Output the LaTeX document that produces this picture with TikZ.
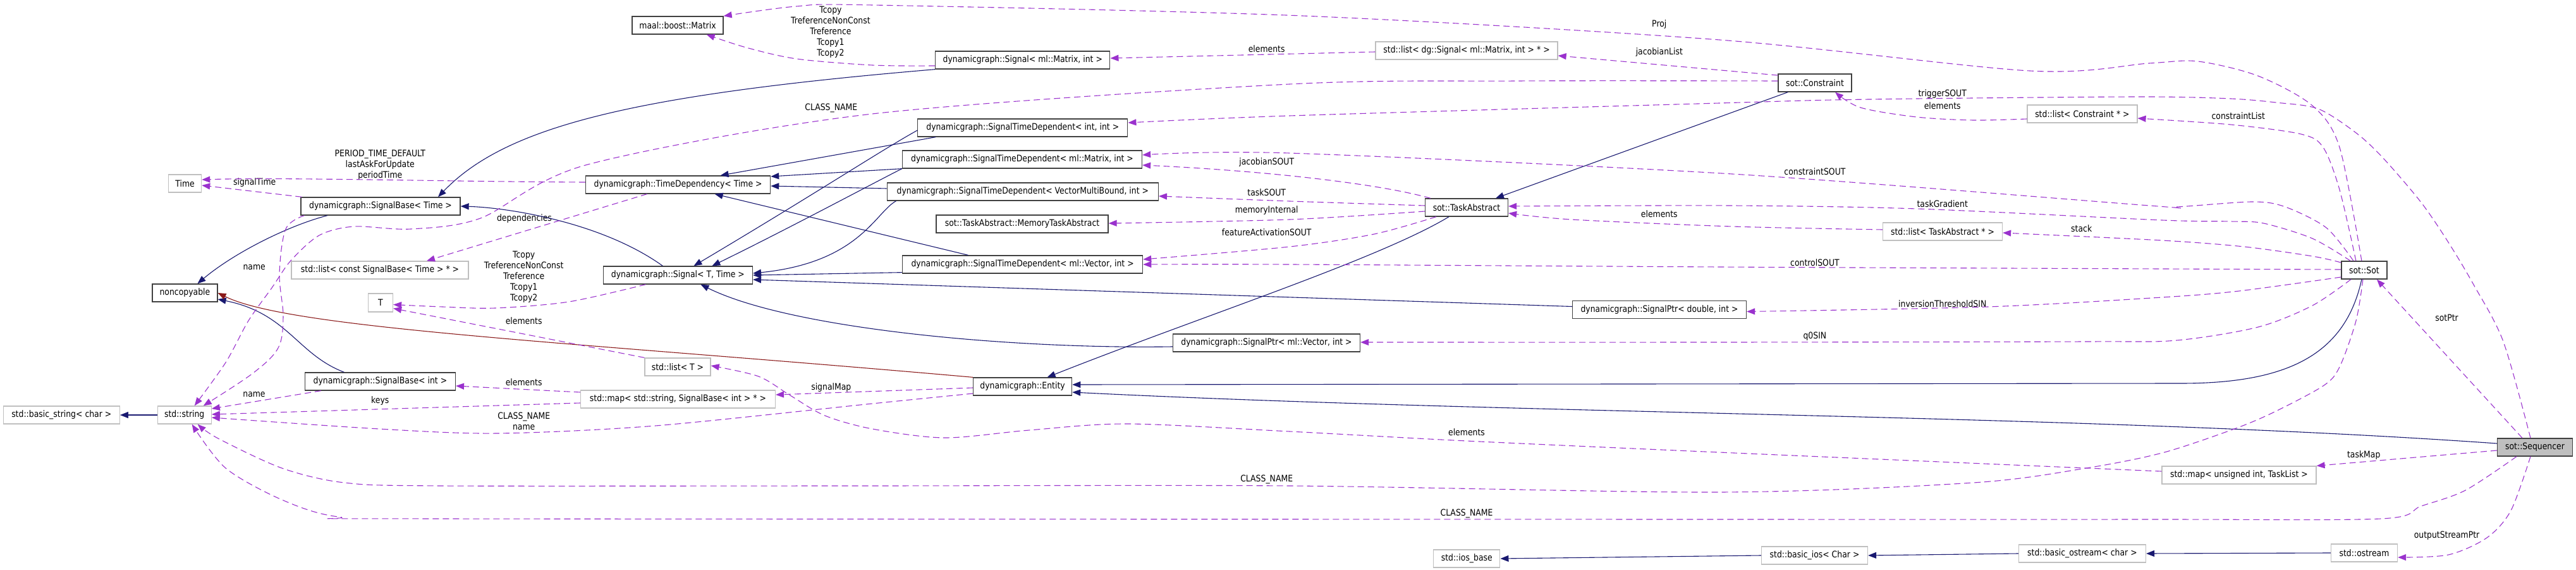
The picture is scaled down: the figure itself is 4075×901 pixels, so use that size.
\documentclass[tikz,border=0pt]{standalone}
\usepackage{fontspec}
\setmainfont[FakeStretch=0.87]{DejaVu Sans}
\usetikzlibrary{arrows.meta,calc}
\definecolor{inh}{HTML}{191970}
\definecolor{usec}{HTML}{9A32CD}
\definecolor{priv}{HTML}{8B1A1A}
\definecolor{dk}{HTML}{404040}
\definecolor{lg}{HTML}{BFBFBF}
\tikzset{
 every node/.style={font=\fontsize{14.3}{17}\selectfont},
 cls/.style={draw=dk, line width=1.3pt, minimum height=28pt, inner sep=0pt},
 ext/.style={draw=lg, line width=1.3pt, minimum height=28pt, inner sep=0pt},
 lbl/.style={inner sep=0pt, align=center},
 inhe/.style={draw=inh, line width=1.1pt, -{Triangle[length=13pt,width=10pt]}},
 usee/.style={draw=usec, line width=1.1pt, dash pattern=on 10pt off 6pt, -{Triangle[length=13pt,width=10pt]}},
 prive/.style={draw=priv, line width=1.1pt, -{Triangle[length=13pt,width=10pt]}},
}
\begin{document}
\begin{tikzpicture}[x=1pt,y=-1pt]
\useasboundingbox (0,0) rectangle (4075,901);
% ---------- nodes
\node[ext, minimum width=184pt] (bstr) at (97.3,656) {std::basic\_string< char >};
\node[ext, minimum width=85pt] (str) at (291.7,656) {std::string};
\node[ext, minimum width=52pt] (time) at (292.6,290) {Time};
\node[cls, minimum width=103pt] (ncp) at (292.4,463) {noncopyable};
\node[cls, minimum width=252pt] (sbt) at (602,326) {dynamicgraph::SignalBase< Time >};
\node[ext, minimum width=280pt] (lcsb) at (601,427) {std::list< const SignalBase< Time > * >};
\node[ext, minimum width=39pt, minimum height=29pt] (T) at (602,478.5) {T};
\node[cls, minimum width=238pt] (sbi) at (601.4,603) {dynamicgraph::SignalBase< int >};
\node[cls, minimum width=144pt] (mat) at (1072,40) {maal::boost::Matrix};
\node[cls, minimum width=292pt] (td) at (1072.6,292) {dynamicgraph::TimeDependency< Time >};
\node[cls, minimum width=236pt] (sig) at (1072.4,435) {dynamicgraph::Signal< T, Time >};
\node[ext, minimum width=104pt] (lt) at (1072,580) {std::list< T >};
\node[ext, minimum width=308pt] (mapsb) at (1072.4,631) {std::map< std::string, SignalBase< int > * >};
\node[cls, minimum width=276pt] (smi) at (1617.8,95) {dynamicgraph::Signal< ml::Matrix, int >};
\node[cls, minimum width=332pt] (stdii) at (1617.8,202) {dynamicgraph::SignalTimeDependent< int, int >};
\node[cls, minimum width=379pt] (stdm) at (1617,252) {dynamicgraph::SignalTimeDependent< ml::Matrix, int >};
\node[cls, minimum width=429pt] (stdvmb) at (1617.8,303) {dynamicgraph::SignalTimeDependent< VectorMultiBound, int >};
\node[cls, minimum width=272pt] (mta) at (1617,354) {sot::TaskAbstract::MemoryTaskAbstract};
\node[cls, minimum width=380pt] (stdv) at (1617.6,418) {dynamicgraph::SignalTimeDependent< ml::Vector, int >};
\node[cls, minimum width=156pt] (ent) at (1617.6,611) {dynamicgraph::Entity};
\node[cls, minimum width=296pt] (spv) at (2003.5,542) {dynamicgraph::SignalPtr< ml::Vector, int >};
\node[ext, minimum width=288pt] (lsig) at (2320,80) {std::list< dg::Signal< ml::Matrix, int > * >};
\node[cls, minimum width=131pt] (ta) at (2320,328) {sot::TaskAbstract};
\node[ext, minimum width=105pt] (iosb) at (2320.3,883) {std::ios\_base};
\node[cls, minimum width=275pt] (spd) at (2625,489.5) {dynamicgraph::SignalPtr< double, int >};
\node[cls, minimum width=116pt] (con) at (2871,131) {sot::Constraint};
\node[ext, minimum width=168pt] (bios) at (2870.5,878) {std::basic\_ios< Char >};
\node[ext, minimum width=174pt] (lcon) at (3293.9,180) {std::list< Constraint * >};
\node[ext, minimum width=189pt] (lta) at (3073,366) {std::list< TaskAbstract * >};
\node[ext, minimum width=201pt] (bost) at (3293.9,875) {std::basic\_ostream< char >};
\node[ext, minimum width=244pt] (mapu) at (3541.9,751) {std::map< unsigned int, TaskList >};
\node[cls, minimum width=72pt] (sot) at (3739.9,427) {sot::Sot};
\node[ext, minimum width=105pt] (ost) at (3740,874) {std::ostream};
\node[cls, minimum width=119pt, fill=lg] (seq) at (4010,707) {sot::Sequencer};
% ---------- labels
\node[lbl] (l1) at (601.3,261) {PERIOD\_TIME\_DEFAULT\\lastAskForUpdate\\periodTime};
\node[lbl] (l2) at (402.7,289) {signalTime};
\node[lbl] (l3) at (829.5,346) {dependencies};
\node[lbl] (l4) at (402.2,423) {name};
\node[lbl] (l5) at (1314.8,171) {CLASS\_NAME};
\node[lbl] (l6) at (402,624) {name};
\node[lbl] (l7) at (601.3,634) {keys};
\node[lbl] (l8) at (828.7,665.5) {CLASS\_NAME\\name};
\node[lbl] (l9) at (1313.9,51) {Tcopy\\TreferenceNonConst\\Treference\\Tcopy1\\Tcopy2};
\node[lbl] (l10) at (828.7,438) {Tcopy\\TreferenceNonConst\\Treference\\Tcopy1\\Tcopy2};
\node[lbl] (l11) at (828.7,507) {elements};
\node[lbl] (l12) at (828.7,604) {elements};
\node[lbl] (l13) at (1314.8,613) {signalMap};
\node[lbl] (l14) at (2003.7,77) {elements};
\node[lbl] (l15) at (2624.8,83) {jacobianList};
\node[lbl] (l16) at (2624.8,39) {Proj};
\node[lbl] (l17) at (2003.7,257) {jacobianSOUT};
\node[lbl] (l18) at (2003.7,304) {taskSOUT};
\node[lbl] (l19) at (2003.7,333) {memoryInternal};
\node[lbl] (l20) at (2003.7,367) {featureActivationSOUT};
\node[lbl] (l21) at (2624.8,338) {elements};
\node[lbl] (l22) at (2320,683) {elements};
\node[lbl] (l23) at (2003.7,758) {CLASS\_NAME};
\node[lbl] (l24) at (2320,812) {CLASS\_NAME};
\node[lbl] (l25) at (3072.7,149) {triggerSOUT};
\node[lbl] (l26) at (3072.7,167) {elements};
\node[lbl] (l27) at (2870.9,271) {constraintSOUT};
\node[lbl] (l28) at (3072.7,322) {taskGradient};
\node[lbl] (l29) at (3292.7,361) {stack};
\node[lbl] (l30) at (2870.9,415) {controlSOUT};
\node[lbl] (l31) at (3072.7,480) {inversionThresholdSIN};
\node[lbl] (l32) at (2870.9,532) {q0SIN};
\node[lbl] (l33) at (3540.8,183) {constraintList};
\node[lbl] (l34) at (3870.5,502) {sotPtr};
\node[lbl] (l35) at (3739.2,720) {taskMap};
\node[lbl] (l36) at (3870.5,847) {outputStreamPtr};
% ---------- inheritance edges
\draw[inhe] ($(sbt.south)+(-84,0)$) .. controls (455,357) and (370,400) .. ($(ncp.north)+(20,0)$);
\draw[inhe] ($(sbi.north)+(-57,0)$) .. controls (470,560) and (455,495) .. ($(ncp.east)+(0,10)$);
\draw[inhe] (smi.south west) .. controls (1000,150) and (800,200) .. ($(sbt.north)+(91,0)$);
\draw[inhe] ($(sig.north)+(-24,0)$) .. controls (950,350) and (800,328) .. (sbt.east);
\draw[inhe] ($(stdii.south west)+(29,0)$) -- ($(td.north)+(67,0)$);
\draw[inhe] (stdm.south west) -- ($(td.east)+(0,-13)$);
\draw[inhe] ($(stdvmb.west)+(0,-5)$) -- ($(td.east)+(0,2)$);
\draw[inhe] ($(stdv.north)+(-86,0)$) -- ($(td.south)+(58,0)$);
\draw[inhe] ($(stdii.west)+(0,4)$) .. controls (1390,240) and (1300,300) .. ($(sig.north)+(25,0)$);
\draw[inhe] (stdm.south west) .. controls (1390,285) and (1250,360) .. ($(sig.north)+(54,0)$);
\draw[inhe] ($(stdvmb.south west)+(15,0)$) .. controls (1385,335) and (1360,415) .. ($(sig.east)+(0,-3)$);
\draw[inhe] ($(stdv.south west)+(0,-2)$) -- (sig.east);
\draw[inhe] ($(spd.west)+(0,-5)$) -- ($(sig.east)+(0,7)$);
\draw[inhe] ($(spv.west)+(0,6)$) .. controls (1600,552) and (1250,520) .. ($(sig.south)+(36,0)$);
\draw[prive] (ent.north west) .. controls (900,540) and (460,520) .. (ncp.east);
\draw[inhe] ($(ta.south)+(-28,0)$) .. controls (2180,410) and (1900,500) .. ($(ent.north)+(39,0)$);
\draw[inhe] ($(sot.south)+(-4,0)$) .. controls (3710,560) and (3620,606) .. (3450,606) -- ($(ent.east)+(0,-3)$);
\draw[inhe] ($(seq.west)+(0,-6)$) .. controls (3300,655) and (2400,655) .. ($(ent.east)+(0,9)$);
\draw[inhe] ($(con.south west)+(16,0)$) -- ($(ta.north)+(46,0)$);
\draw[inhe] (bios.west) -- (iosb.east);
\draw[inhe] (bost.west) -- (bios.east);
\draw[inhe] (ost.west) -- (bost.east);
\draw[inhe] (str.west) -- (bstr.east);
% ---------- usage edges
\draw[usee] ($(td.west)+(0,-4)$) .. controls (700,287) and (450,280) .. ($(time.east)+(0,-6)$);
\draw[usee] ($(sbt.north west)+(2,0)$) -- ($(time.east)+(0,3)$);
\draw[usee] ($(td.south)+(-49,0)$) -- ($(lcsb.north)+(74,0)$);
\draw[usee] plot[smooth, tension=0.55] coordinates {($(sbt.south west)+(6,0)$) (452,362) (442,433) (448,500) (440,550) (400,590) ($(str.north)+(30,0)$)};
\draw[usee] plot[smooth, tension=0.5] coordinates {($(con.west)+(0,-3)$) (2400,128) (2040,133) (1380,180) (930,260) (760,345) (650,362) (560,358) (505,372) (460,412) (430,455) (393,507) (357,573) ($(str.north)+(16,0)$)};
\draw[usee] ($(sbi.south west)+(26,0)$) -- ($(str.east)+(0,-10)$);
\draw[usee] ($(mapsb.west)+(0,6)$) -- ($(str.east)+(0,-1)$);
\draw[usee] plot[smooth, tension=0.5] coordinates {($(ent.west)+(0,11)$) (1380,638) (1037,673) (787,685) (600,678) ($(str.east)+(0,4)$)};
\draw[usee] ($(lsig.west)+(0,2)$) -- ($(smi.east)+(0,-3)$);
\draw[usee] ($(con.west)+(0,-12)$) -- ($(lsig.east)+(0,8)$);
\draw[usee] plot[smooth, tension=0.5] coordinates {($(sot.north)+(-4,0)$) (3701,233) (3658,167) (3572,120) (3477,97) (3400,100) (3211,112) (2720,63) (2060,25) (1380,8) (1260,10) (mat.north east)};
\draw[usee] plot[smooth, tension=0.5] coordinates {($(smi.west)+(0,9)$) (1380,103) (1260,93) (1180,75) ($(mat.south east)+(-27,0)$)};
\draw[usee] plot[smooth, tension=0.5] coordinates {($(sig.south)+(-51,0)$) (900,477) (783,487) (700,485) ($(T.east)+(0,3)$)};
\draw[usee] (lt.north west) -- ($(T.east)+(0,9)$);
\draw[usee] plot[smooth, tension=0.5] coordinates {($(mapu.west)+(0,-6)$) (2720,715) (2320,697) (2040,682) (1784,670) (1628,680) (1494,692) (1380,678) (1305,657) (1250,625) (1200,595) ($(lt.east)+(0,-2)$)};
\draw[usee] ($(mapsb.west)+(0,-11)$) -- ($(sbi.east)+(0,7)$);
\draw[usee] ($(ent.west)+(0,2)$) -- ($(mapsb.east)+(0,-7)$);
\draw[usee] ($(ta.north west)+(9,0)$) .. controls (2180,290) and (2000,270) .. ($(stdm.east)+(0,9)$);
\draw[usee] plot[smooth, tension=0.5] coordinates {($(sot.north)+(-17,0)$) (3680,360) (3615,327) (3563,319) (3443,327) (3400,325) (2740,275) (2040,242) ($(stdm.east)+(0,-7)$)};
\draw[usee] plot[smooth, tension=0.5] coordinates {($(seq.north)+(-7,0)$) (3960,540) (3913,450) (3873,383) (3830,320) (3770,250) (3727,210) (3667,172) (3600,162) (3529,156) (3400,153) (3122,155) (2898,158) (2720,163) (2040,183) ($(stdii.east)+(0,-8)$)};
\draw[usee] plot[smooth, tension=0.5] coordinates {($(sot.north)+(-13,0)$) (3701,300) (3675,233) (3640,212) (3529,197) ($(lcon.east)+(0,7)$)};
\draw[usee] plot[smooth, tension=0.5] coordinates {($(lcon.west)+(0,8)$) (3122,190) (3032,185) (2943,170) ($(con.south)+(32,0)$)};
\draw[usee] plot[smooth, tension=0.5] coordinates {($(sot.north west)+(15,0)$) (3658,377) (3581,353) (3529,350) (3420,348) (3032,330) (2740,325) ($(ta.east)+(0,-2)$)};
\draw[usee] plot[smooth, tension=0.5] coordinates {($(sot.west)+(0,-12)$) (3658,405) (3550,390) (3420,380) ($(lta.east)+(0,2)$)};
\draw[usee] plot[smooth, tension=0.5] coordinates {($(sot.west)+(0,-1)$) (3420,425) (2720,422) (2040,418) (stdv.east)};
\draw[usee] plot[smooth, tension=0.5] coordinates {($(sot.west)+(0,11)$) (3542,460) (3420,470) (3144,485) ($(spd.east)+(0,3)$)};
\draw[usee] plot[smooth, tension=0.5] coordinates {($(sot.south)+(-21,0)$) (3658,483) (3572,517) (3443,538) (3300,540) (2720,541) ($(spv.east)+(0,-1)$)};
\draw[usee] plot[smooth, tension=0.5] coordinates {($(sot.south)+(-2,0)$) (3727,507) (3701,580) (3675,610) (3594,653) (3529,680) (3420,716) (3300,740) (3122,763) (2720,778) (2040,768) (1360,768) (700,768) (545,763) (446,740) (345,693) ($(str.south)+(21,0)$)};
\draw[usee] plot[smooth, tension=0.5] coordinates {($(seq.south)+(-29,0)$) (3900,775) (3830,800) (3766,820) (3400,821) (2720,821) (700,820) (536,817) (446,790) (357,740) ($(str.south)+(12,0)$)};
\draw[usee] ($(seq.north)+(-20,0)$) -- ($(sot.south)+(20,0)$);
\draw[usee] ($(seq.west)+(0,5)$) -- (mapu.north east);
\draw[usee] plot[smooth, tension=0.5] coordinates {($(seq.south)+(-7,0)$) (3972,807) (3934,850) (3873,877) ($(ost.east)+(0,7)$)};
\draw[usee] plot[smooth, tension=0.5] coordinates {($(ta.west)+(0,-3)$) (2040,318) ($(stdvmb.east)+(0,7)$)};
\draw[usee] plot[smooth, tension=0.5] coordinates {($(ta.west)+(0,6)$) (2040,347) ($(mta.east)+(0,-1)$)};
\draw[usee] plot[smooth, tension=0.5] coordinates {($(ta.south west)+(18,0)$) (2174,370) (2040,390) ($(stdv.east)+(0,-8)$)};
\draw[usee] plot[smooth, tension=0.5] coordinates {($(lta.west)+(0,-3)$) (2740,358) (2486,347) ($(ta.east)+(0,9)$)};
\end{tikzpicture}
\end{document}
